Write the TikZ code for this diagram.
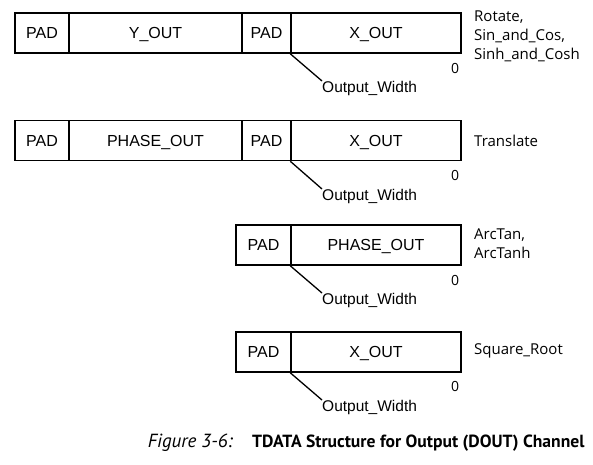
\documentclass[tikz,border=0pt]{standalone}
\usepackage{fontspec}
\setmainfont{Liberation Sans}
\newfontfamily\labelfont{Open Sans}
\newfontfamily\capfont{PT Sans}
\begin{document}
\begin{tikzpicture}[x=1pt, y=-1pt,
    field/.style={rectangle, draw, line width=1.5pt, minimum height=40pt, inner sep=0pt, text height=11.5pt, text depth=0pt, font=\fontsize{16}{18}\selectfont},
    mode/.style={anchor=west, align=left, inner sep=0pt, font=\labelfont\fontsize{15}{19}\selectfont},
    lsb/.style={inner sep=0pt, font=\labelfont\fontsize{14}{16}\selectfont},
    msb/.style={anchor=north west, inner sep=0pt, font=\fontsize{15.5}{18}\selectfont},
    leader/.style={line width=1.3pt},
    caption/.style={inner sep=0pt, font=\capfont\fontsize{17.6}{20}\selectfont}
]
\useasboundingbox (0,0) rectangle (593,464);

% Rotate, Sin_and_Cos, Sinh_and_Cosh
\node[field, minimum width=54pt] (pad1) at (42,33) {PAD};
\node[field, minimum width=173pt] (yout1) at (155.5,33) {Y\_OUT};
\node[field, minimum width=49pt] (padx1) at (266.5,33) {PAD};
\node[field, minimum width=170pt] (xout1) at (376,33) {X\_OUT};
\node[mode] (mode1) at (474,36) {Rotate,\\Sin\_and\_Cos,\\Sinh\_and\_Cosh};
\node[lsb] (lsb1) at (455,68) {0};
\node[msb] (ow1) at (322,81) {Output\_Width};
\draw[leader] (xout1.south west) -- (ow1.north west);

% Translate
\node[field, minimum width=54pt] (pad2) at (42,140.5) {PAD};
\node[field, minimum width=173pt] (phase2) at (155.5,140.5) {PHASE\_OUT};
\node[field, minimum width=49pt] (padx2) at (266.5,140.5) {PAD};
\node[field, minimum width=170pt] (xout2) at (376,140.5) {X\_OUT};
\node[mode] (mode2) at (474,140.5) {Translate};
\node[lsb] (lsb2) at (455,175) {0};
\node[msb] (ow2) at (322,189) {Output\_Width};
\draw[leader] (xout2.south west) -- (ow2.north west);

% ArcTan, ArcTanh
\node[field, minimum width=55pt] (pad3) at (263.5,245) {PAD};
\node[field, minimum width=170pt] (phase3) at (376,245) {PHASE\_OUT};
\node[mode] (mode3) at (474,244) {ArcTan,\\ArcTanh};
\node[lsb] (lsb3) at (455,280) {0};
\node[msb] (ow3) at (322,293) {Output\_Width};
\draw[leader] (phase3.south west) -- (ow3.north west);

% Square_Root
\node[field, minimum width=55pt] (pad4) at (263.5,352) {PAD};
\node[field, minimum width=170pt] (xout4) at (376,352) {X\_OUT};
\node[mode] (mode4) at (474,351) {Square\_Root};
\node[lsb] (lsb4) at (455,386) {0};
\node[msb] (ow4) at (322,400) {Output\_Width};
\draw[leader] (xout4.south west) -- (ow4.north west);

% Caption
\node[caption, anchor=base east, font=\capfont\fontsize{19}{20}\selectfont] (fignum) at (233,447) {\itshape Figure 3-6:};
\node[caption, anchor=base west] (figtitle) at (252,447) {\bfseries TDATA Structure for Output (DOUT) Channel};

\end{tikzpicture}
\end{document}
